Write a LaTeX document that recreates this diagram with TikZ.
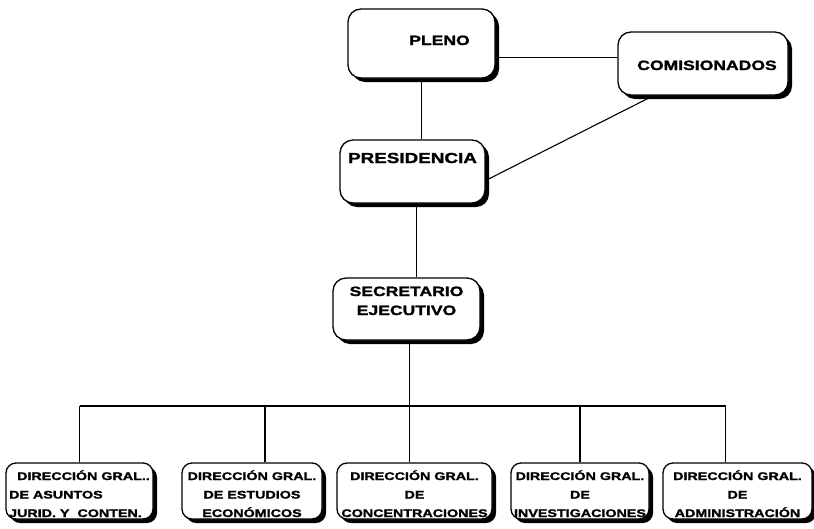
\documentclass[tikz,border=0pt]{standalone}
\usepackage{fontspec}
\newfontfamily\orgfont[FakeStretch=1.3,FakeBold=1.6]{Liberation Sans}

\begin{document}
\begin{tikzpicture}[x=1pt,y=-1pt,
    orgbox/.style={draw,line width=1.3pt,fill=white,rounded corners=13pt,inner sep=0pt,
      preaction={fill=black,transform canvas={xshift=4pt,yshift=-4pt}},
      font=\orgfont\bfseries\fontsize{13.5}{19}\selectfont},
    dirbox/.style={orgbox,rounded corners=10pt,
      font=\orgfont\bfseries\fontsize{11}{18.5}\selectfont,text height=54pt,text depth=2pt},
    link/.style={line width=1.1pt}]
  \useasboundingbox (0,0) rectangle (814,528);
  % upper levels
  \node[orgbox,minimum width=147pt,text height=36pt,text depth=33pt] (pleno) at (421.5,43.5) {\hspace*{36pt}PLENO};
  \node[orgbox,minimum width=170pt,text height=38pt,text depth=25pt] (comis) at (703,63.5) {\hspace*{8pt}COMISIONADOS};
  \node[orgbox,minimum width=145pt,text height=23pt,text depth=40pt,
    font=\orgfont\bfseries\fontsize{14.5}{19}\selectfont] (presid) at (412.5,171.5) {PRESIDENCIA};
  \node[orgbox,minimum width=147pt,align=center,text height=37pt,text depth=25pt] (secr) at (406.5,309) {SECRETARIO\\EJECUTIVO};
  \coordinate (bus) at (410,406);
  % direcciones generales
  \foreach \n/\cx/\w/\dx/\al/\txt in {
      1/79.5/147/0/left/{\hspace*{8pt}DIRECCIÓN GRAL..\\DE ASUNTOS\\JURID. Y\ \ CONTEN.},
      2/252/140/13/center/{DIRECCIÓN GRAL.\\DE ESTUDIOS\\ECONÓMICOS},
      3/414.5/155/-5/center/{DIRECCIÓN GRAL.\\DE\\CONCENTRACIONES},
      4/580/138/0/center/{DIRECCIÓN GRAL.\\DE\\INVESTIGACIONES},
      5/737.5/149/-12/center/{DIRECCIÓN GRAL.\\DE\\ADMINISTRACIÓN}} {
    \node[dirbox,minimum width=\w pt,align=\al] (dg\n) at (\cx,491) {\txt};
    \coordinate (br\n) at ([xshift=\dx pt]dg\n.north |- bus);
    \draw[link] (br\n) -- (br\n |- dg\n.north);
  }
  % connectors
  \draw[link] (pleno.-11) -- (pleno.-11 -| comis.west);
  \draw[link] (pleno.south) -- (pleno.south |- presid.north);
  \draw[link] (comis.213) -- (presid.-7);
  \draw[link] ([xshift=4pt]presid.south) -- ([xshift=4pt]presid.south |- secr.north);
  \draw[link] ([xshift=3pt]secr.south) -- ([xshift=3pt]secr.south |- bus);
  \draw[link] (br1) -- (br5);
\end{tikzpicture}
\end{document}
